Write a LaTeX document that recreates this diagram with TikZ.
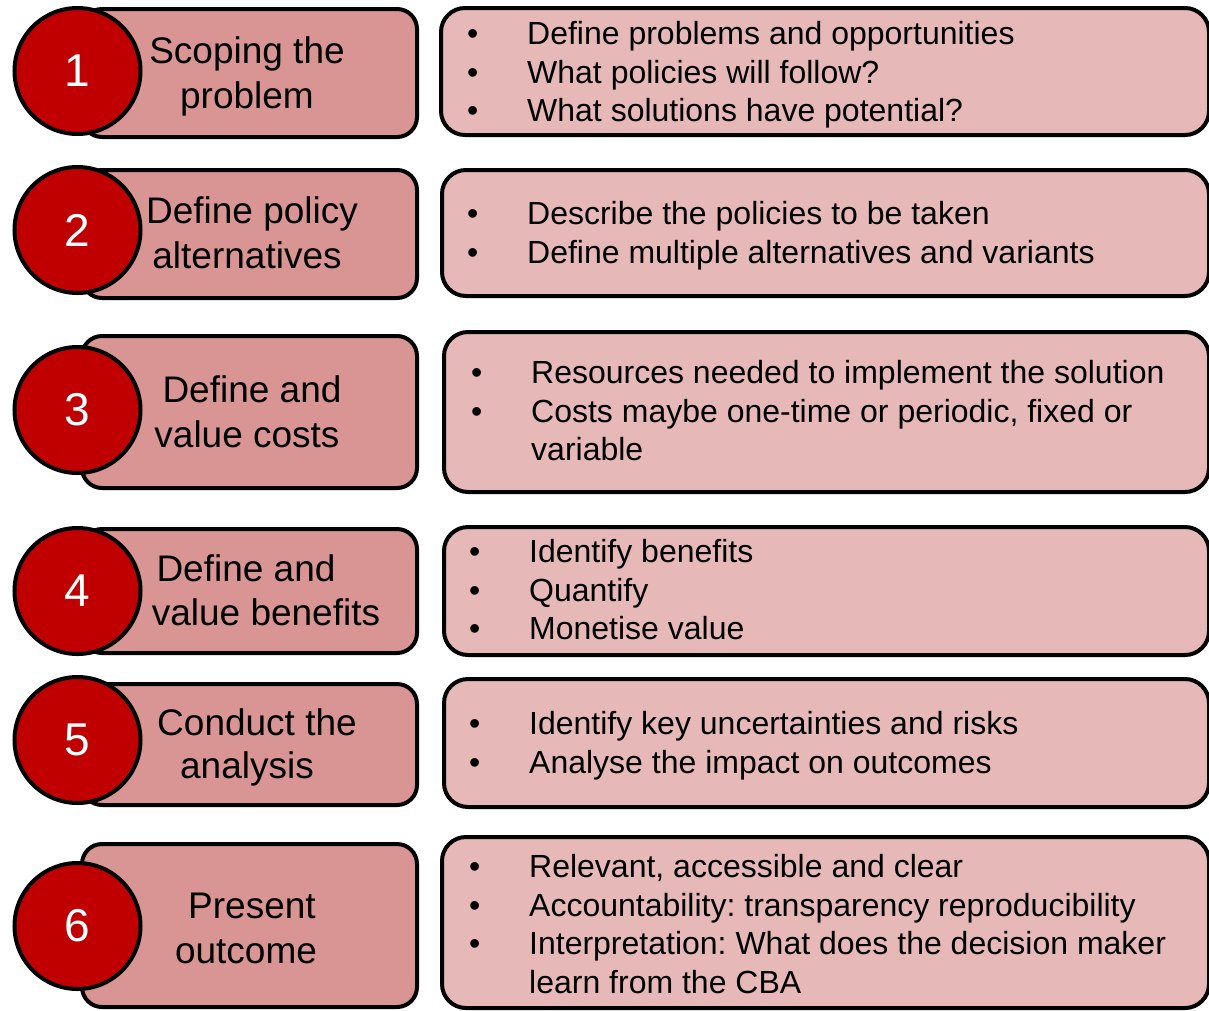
\documentclass[tikz,border=0pt]{standalone}
\usepackage{fontspec}
\setmainfont{Liberation Sans}
\frenchspacing
\definecolor{stepfill}{HTML}{D99594}
\definecolor{notefill}{HTML}{E6B8B7}
\definecolor{badgered}{HTML}{C00000}
\begin{document}
\begin{tikzpicture}[x=1pt,y=-1pt,
  stepbox/.style={draw=black, line width=4pt, fill=stepfill, rounded corners=20pt,
    rectangle, inner sep=0pt, anchor=north west, minimum width=335pt},
  notebox/.style={draw=black, line width=4pt, fill=notefill, rounded corners=24pt,
    rectangle, inner sep=0pt, anchor=north west},
  badge/.style={circle, draw=black, line width=4pt, fill=badgered, minimum size=126pt,
    inner sep=0pt, text=white, font=\fontsize{46}{46}\selectfont},
  steptext/.style={font=\fontsize{37}{44.5}\selectfont, anchor=base, inner sep=0pt},
  notetext/.style={font=\fontsize{32}{38.5}\selectfont, anchor=base west, inner sep=0pt}]
\useasboundingbox (0,0) rectangle (1209,1010);
\newcommand{\bl}{\makebox[60pt][l]{\textbullet}}

% step boxes (left column)
\node[stepbox, minimum height=128pt] (box1) at (80,7) {};
\node[stepbox, minimum height=128pt] (box2) at (80,168) {};
\node[stepbox, minimum height=152pt] (box3) at (80,334) {};
\node[stepbox, minimum height=124pt] (box4) at (80,527) {};
\node[stepbox, minimum height=121pt] (box5) at (80,682) {};
\node[stepbox, minimum height=163pt] (box6) at (80,842) {};

% numbered badges
\node[badge] (num1) at (77.5,71) {1};
\node[badge] (num2) at (77.5,230) {2};
\node[badge] (num3) at (77.5,410) {3};
\node[badge] (num4) at (77.5,591) {4};
\node[badge] (num5) at (77.5,740) {5};
\node[badge] (num6) at (77.5,926) {6};

% step titles
\node[steptext] (t1a) at (247,63) {Scoping the};
\node[steptext] (t1b) at (247,108) {problem};
\node[steptext] (t2a) at (252,223) {Define policy};
\node[steptext] (t2b) at (247,268) {alternatives};
\node[steptext] (t3a) at (252,402) {Define and};
\node[steptext] (t3b) at (247,447) {value costs};
\node[steptext] (t4a) at (246,581) {Define and};
\node[steptext] (t4b) at (266,625) {value benefits};
\node[steptext] (t5a) at (257,735) {Conduct the};
\node[steptext] (t5b) at (247,778) {analysis};
\node[steptext] (t6a) at (252,918) {Present};
\node[steptext] (t6b) at (246,963) {outcome};

% detail boxes (right column)
\node[notebox, minimum width=768pt, minimum height=127pt] (note1) at (439,6) {};
\node[notebox, minimum width=767pt, minimum height=126pt] (note2) at (440,168) {};
\node[notebox, minimum width=765pt, minimum height=160pt] (note3) at (442,330) {};
\node[notebox, minimum width=765pt, minimum height=128pt] (note4) at (442,525) {};
\node[notebox, minimum width=765pt, minimum height=128pt] (note5) at (442,677) {};
\node[notebox, minimum width=767pt, minimum height=171pt] (note6) at (440,835) {};

% bullet lists
\node[notetext] (l1) at (467,44.5) {\begin{tabular}[t]{@{}l@{}l@{}}
\bl & Define problems and opportunities\\
\bl & What policies will follow?\\
\bl & What solutions have potential?
\end{tabular}};
\node[notetext] (l2) at (467,224.5) {\begin{tabular}[t]{@{}l@{}l@{}}
\bl & Describe the policies to be taken\\
\bl & Define multiple alternatives and variants
\end{tabular}};
\node[notetext] (l3) at (471,383.5) {\begin{tabular}[t]{@{}l@{}l@{}}
\bl & Resources needed to implement the solution\\
\bl & Costs maybe one-time or periodic, fixed or\\
 & variable
\end{tabular}};
\node[notetext] (l4) at (469,562.5) {\begin{tabular}[t]{@{}l@{}l@{}}
\bl & Identify benefits\\
\bl & Quantify\\
\bl & Monetise value
\end{tabular}};
\node[notetext] (l5) at (469,734.5) {\begin{tabular}[t]{@{}l@{}l@{}}
\bl & Identify key uncertainties and risks\\
\bl & Analyse the impact on outcomes
\end{tabular}};
\node[notetext] (l6) at (469,877.5) {\begin{tabular}[t]{@{}l@{}l@{}}
\bl & Relevant, accessible and clear\\
\bl & Accountability: transparency reproducibility\\
\bl & Interpretation: What does the decision maker\\
 & learn from the CBA
\end{tabular}};
\end{tikzpicture}
\end{document}
